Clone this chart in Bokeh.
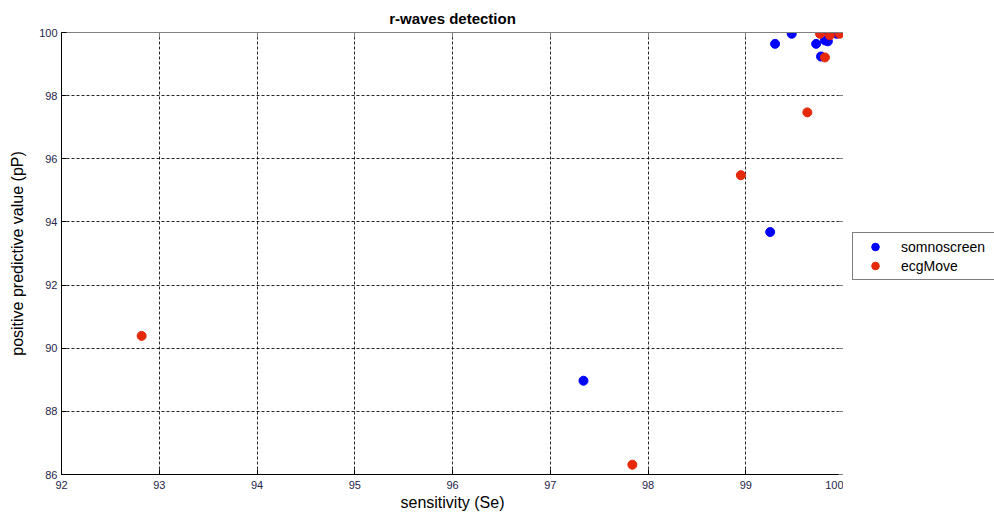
from bokeh.plotting import figure
from bokeh.layouts import row
from bokeh.models import LinearAxis, Legend, LegendItem, FixedTicker, Range1d, ColumnDataSource
from bokeh.embed import file_html
from bokeh.resources import INLINE

# data
somno_se = [99.47, 99.30, 99.72, 99.81, 99.84, 99.85, 99.77, 99.93, 99.25, 97.34]
somno_pp = [99.96, 99.64, 99.64, 99.75, 99.72, 100.0, 99.24, 99.96, 93.68, 88.97]
ecg_se = [99.76, 99.86, 99.96, 99.81, 99.63, 98.95, 92.82, 97.84]
ecg_pp = [99.96, 99.91, 99.96, 99.21, 97.47, 95.48, 90.39, 86.31]
series_names = ["somnoscreen", "ecgMove"]
series_colors = ["#0000ff", "#e5290a"]
x_ticks = [92, 93, 94, 95, 96, 97, 98, 99, 100]
y_ticks = [86, 88, 90, 92, 94, 96, 98, 100]

FONT = "Liberation Sans"

p = figure(width=843, height=513, output_backend="svg", toolbar_location=None,
           x_range=Range1d(92, 100), y_range=Range1d(86, 100),
           title="r-waves detection", x_axis_location=None, y_axis_location=None,
           min_border_left=61, min_border_right=0, min_border_top=32, min_border_bottom=38)
p.title.align = "center"
p.title.text_font = FONT
p.title.text_font_size = "15px"
p.title.text_font_style = "bold"
p.title.text_color = "#000000"
p.title.offset = 0
p.title.standoff = 12
p.outline_line_color = None
p.background_fill_color = "white"

xb = LinearAxis(ticker=FixedTicker(ticks=x_ticks), axis_label="sensitivity (Se)")
yl = LinearAxis(ticker=FixedTicker(ticks=y_ticks), axis_label="positive predictive value (pP)")
xt = LinearAxis(ticker=FixedTicker(ticks=x_ticks),
                major_label_overrides={t: "" for t in x_ticks})
yr = LinearAxis(ticker=FixedTicker(ticks=y_ticks),
                major_label_overrides={t: "" for t in y_ticks})
for ax in (xb, yl, xt, yr):
    ax.major_tick_in = 5
    ax.major_tick_out = 0
    ax.minor_tick_line_color = None
    ax.major_label_text_font = FONT
    ax.major_label_text_font_size = "11px"
    ax.major_label_text_color = "#26264a"
    ax.major_label_standoff = 6
    ax.axis_label_text_font = FONT
    ax.axis_label_text_font_size = "16px"
    ax.axis_label_text_font_style = "normal"
    ax.axis_label_text_color = "#000000"
    ax.axis_label_standoff = 2
yl.major_label_standoff = 4
yl.axis_label_standoff = 10
for ax in (xt, yr):
    ax.axis_line_color = "#808080"
    ax.major_tick_line_color = "#808080"
    ax.major_label_standoff = 0
for ax in (xb, yl):
    ax.axis_line_color = "#000000"
    ax.major_tick_line_color = "#000000"
p.add_layout(xb, "below")
p.add_layout(yl, "left")
p.add_layout(xt, "above")
p.add_layout(yr, "right")

p.xgrid.ticker = FixedTicker(ticks=x_ticks)
p.ygrid.ticker = FixedTicker(ticks=y_ticks)
for g in (p.xgrid, p.ygrid):
    g.grid_line_color = "#000000"
    g.grid_line_dash = "3 2"
    g.grid_line_width = 1
    g.grid_line_alpha = 0.85

s1 = ColumnDataSource(dict(x=somno_se, y=somno_pp))
s2 = ColumnDataSource(dict(x=ecg_se, y=ecg_pp))
p.scatter("x", "y", source=s1, size=9, fill_color=series_colors[0], line_color=series_colors[0])
p.scatter("x", "y", source=s2, size=9, fill_color=series_colors[1], line_color=series_colors[1])

# legend panel to the right of the axes (its own renderers sit outside its visible range)
lf = figure(width=151, height=513, output_backend="svg", toolbar_location=None,
            x_axis_location=None, y_axis_location=None, min_border=0,
            x_range=Range1d(0, 1), y_range=Range1d(0, 1))
lf.outline_line_color = None
lf.grid.visible = False
items = []
for name, col, xs, ys in zip(series_names, series_colors, [somno_se, ecg_se], [somno_pp, ecg_pp]):
    r = lf.scatter(x=xs[:1], y=ys[:1], size=9, fill_color=col, line_color=col)
    items.append(LegendItem(label=name, renderers=[r]))

legend = Legend(items=items, location=(9, 194))
legend.label_text_font = FONT
legend.label_text_font_size = "14px"
legend.label_text_color = "#000000"
legend.border_line_color = "#000000"
legend.border_line_width = 1
legend.background_fill_color = "white"
legend.background_fill_alpha = 1
legend.glyph_width = 36
legend.glyph_height = 19
legend.label_height = 19
legend.label_width = 89
legend.label_standoff = 8
legend.padding = 4
legend.spacing = 0
legend.margin = 0
lf.add_layout(legend, "center")

layout = row(p, lf, spacing=0)
open("out.html", "w").write(file_html(layout, INLINE))
